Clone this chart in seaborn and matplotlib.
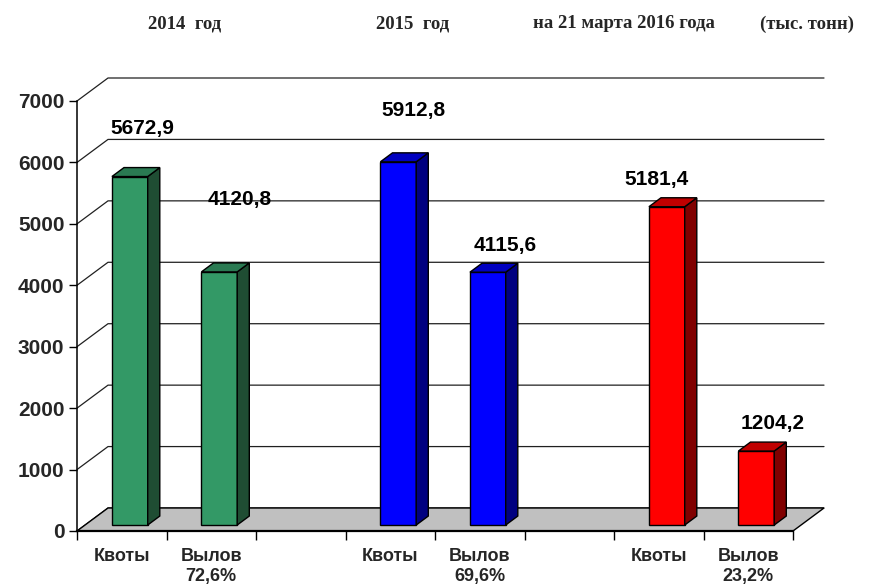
import matplotlib
matplotlib.use("Agg")
import matplotlib.pyplot as plt
from matplotlib.patches import Polygon
import numpy as np
import pandas as pd
import seaborn as sns

# --- data ---
YEARS = ["2014", "2015", "2016"]
QUOTA = [5672.9, 5912.8, 5181.4]
CATCH = [4120.8, 4115.6, 1204.2]
CATCH_PCT = ["72,6%", "69,6%", "23,2%"]
YEAR_TITLES = ["2014  год", "2015  год", "на 21 марта 2016 года"]
UNIT_TITLE = "(тыс. тонн)"
Y_TICKS = [0, 1000, 2000, 3000, 4000, 5000, 6000, 7000]

# front / side / top face colours per year
FRONT = ["#339966", "#0000FF", "#FF0000"]
SIDE = ["#1F4D33", "#000080", "#800000"]
TOP = ["#2A7A52", "#0000C0", "#C00000"]

# --- layout (pixels of the 875x587 picture) ---
W, H = 875, 587
AX_L, AX_B, AX_W, AX_H = 77, 587 - 531, 716, 430
DEPTH_PX = (31, 23)          # floor / walls depth offset
BAR_FRONT, BAR_BACK = 0.26, 0.65   # bar depth as fraction of the floor depth
# data label centre offset from bar front-top centre, px
LABEL_OFFSETS_PX = [(13, 48), (20, 72), (15.5, 51), (17, 27), (-10, 27), (16.5, 28)]

sns.set_theme(style="white")
plt.rcParams["font.family"] = ["Liberation Sans", "DejaVu Sans"]

fig = plt.figure(figsize=(W / 100, H / 100), dpi=100)
ax = fig.add_axes([AX_L / W, AX_B / H, AX_W / W, AX_H / H])

rows, order, tick_labels = [], [], []
for year, q, c, pct in zip(YEARS, QUOTA, CATCH, CATCH_PCT):
    rows.append({"slot": f"{year} q", "year": year, "value": q})
    rows.append({"slot": f"{year} c", "year": year, "value": c})
    order += [f"{year} q", f"{year} c", f"{year} gap"]
    tick_labels += ["Квоты", f"Вылов\n{pct}", ""]
order, tick_labels = order[:-1], tick_labels[:-1]
df = pd.DataFrame(rows)

sns.barplot(data=df, x="slot", y="value", hue="year", order=order,
            hue_order=YEARS, palette=dict(zip(YEARS, FRONT)), dodge=False,
            saturation=1, width=0.4, errorbar=None, legend=False,
            edgecolor="black", linewidth=1, ax=ax, zorder=4)

n = len(order)
x_lo, x_hi = -0.5, n - 0.5
ax.set_xlim(x_lo, x_hi)
ax.set_ylim(Y_TICKS[0], Y_TICKS[-1])

# depth offsets in data units
DX = DEPTH_PX[0] * (x_hi - x_lo) / AX_W
DY = DEPTH_PX[1] * (Y_TICKS[-1] - Y_TICKS[0]) / AX_H

# walls and floor
for v in Y_TICKS:
    ax.plot([x_lo, x_lo + DX, x_hi + DX], [v, v + DY, v + DY], color="#202020",
            lw=0.9, clip_on=False, zorder=1)
floor = Polygon([(x_lo, 0), (x_hi, 0), (x_hi + DX, DY), (x_lo + DX, DY)],
                closed=True, facecolor="#C0C0C0", edgecolor="black", lw=1,
                clip_on=False, zorder=2)

bars = sorted([p for p in ax.patches if np.isfinite(p.get_height())],
              key=lambda p: p.get_x())
ax.add_patch(floor)

bdx = (BAR_BACK - BAR_FRONT) * DX
bdy = (BAR_BACK - BAR_FRONT) * DY
for i, p in enumerate(bars):
    x0, w, h = p.get_x(), p.get_width(), p.get_height()
    yi = int(round(x0 + w / 2)) // 3
    x0 += BAR_FRONT * DX
    y0 = BAR_FRONT * DY
    p.set_x(x0)
    p.set_y(y0)
    x1, y1 = x0 + w, y0 + h
    ax.add_patch(Polygon([(x1, y0), (x1 + bdx, y0 + bdy), (x1 + bdx, y1 + bdy), (x1, y1)],
                         closed=True, facecolor=SIDE[yi], edgecolor="black", lw=1,
                         clip_on=False, zorder=4))
    ax.add_patch(Polygon([(x0, y1), (x1, y1), (x1 + bdx, y1 + bdy), (x0 + bdx, y1 + bdy)],
                         closed=True, facecolor=TOP[yi], edgecolor="black", lw=1,
                         clip_on=False, zorder=4))
    ox, oy = LABEL_OFFSETS_PX[i]
    ax.annotate(f"{h:.1f}".replace(".", ","), (x0 + w / 2, y1),
                xytext=(ox * 0.72, oy * 0.72), textcoords="offset points",
                ha="center", va="center", fontsize=15, fontweight="bold",
                color="black", zorder=6, annotation_clip=False)

# axes
for s in ("top", "right"):
    ax.spines[s].set_visible(False)
ax.spines["left"].set_color("black")
ax.spines["left"].set_linewidth(1.1)
ax.spines["bottom"].set_color("black")
ax.spines["bottom"].set_linewidth(1.6)
ax.spines["left"].set_zorder(3)
ax.spines["bottom"].set_zorder(3)

ax.set_yticks(Y_TICKS)
ax.set_yticklabels([str(v) for v in Y_TICKS], fontsize=15, fontweight="bold")
ax.tick_params(axis="y", direction="out", length=6, width=1, color="black", pad=3, left=True)

ax.set_xticks(range(n))
ax.set_xticklabels(tick_labels, fontsize=13, fontweight="bold", linespacing=1.25)
ax.set_xticks(np.arange(x_lo, x_hi + 0.01, 1.0), minor=True)
ax.tick_params(axis="x", which="major", length=0, pad=12)
ax.tick_params(axis="x", which="minor", direction="out", length=6.5, width=1,
               color="black", bottom=True)
ax.set_xlabel("")
ax.set_ylabel("")
ax.set_facecolor("white")

# header texts
serif = ["Liberation Serif", "DejaVu Serif"]
for txt, xc in zip(YEAR_TITLES + [UNIT_TITLE], [185, 413, 624, 807]):
    fig.text(xc / W, 1 - 24 / H, txt, ha="center", va="center", fontsize=13.5,
             fontweight="bold", family=serif)

fig.savefig("out.png", dpi=100)
